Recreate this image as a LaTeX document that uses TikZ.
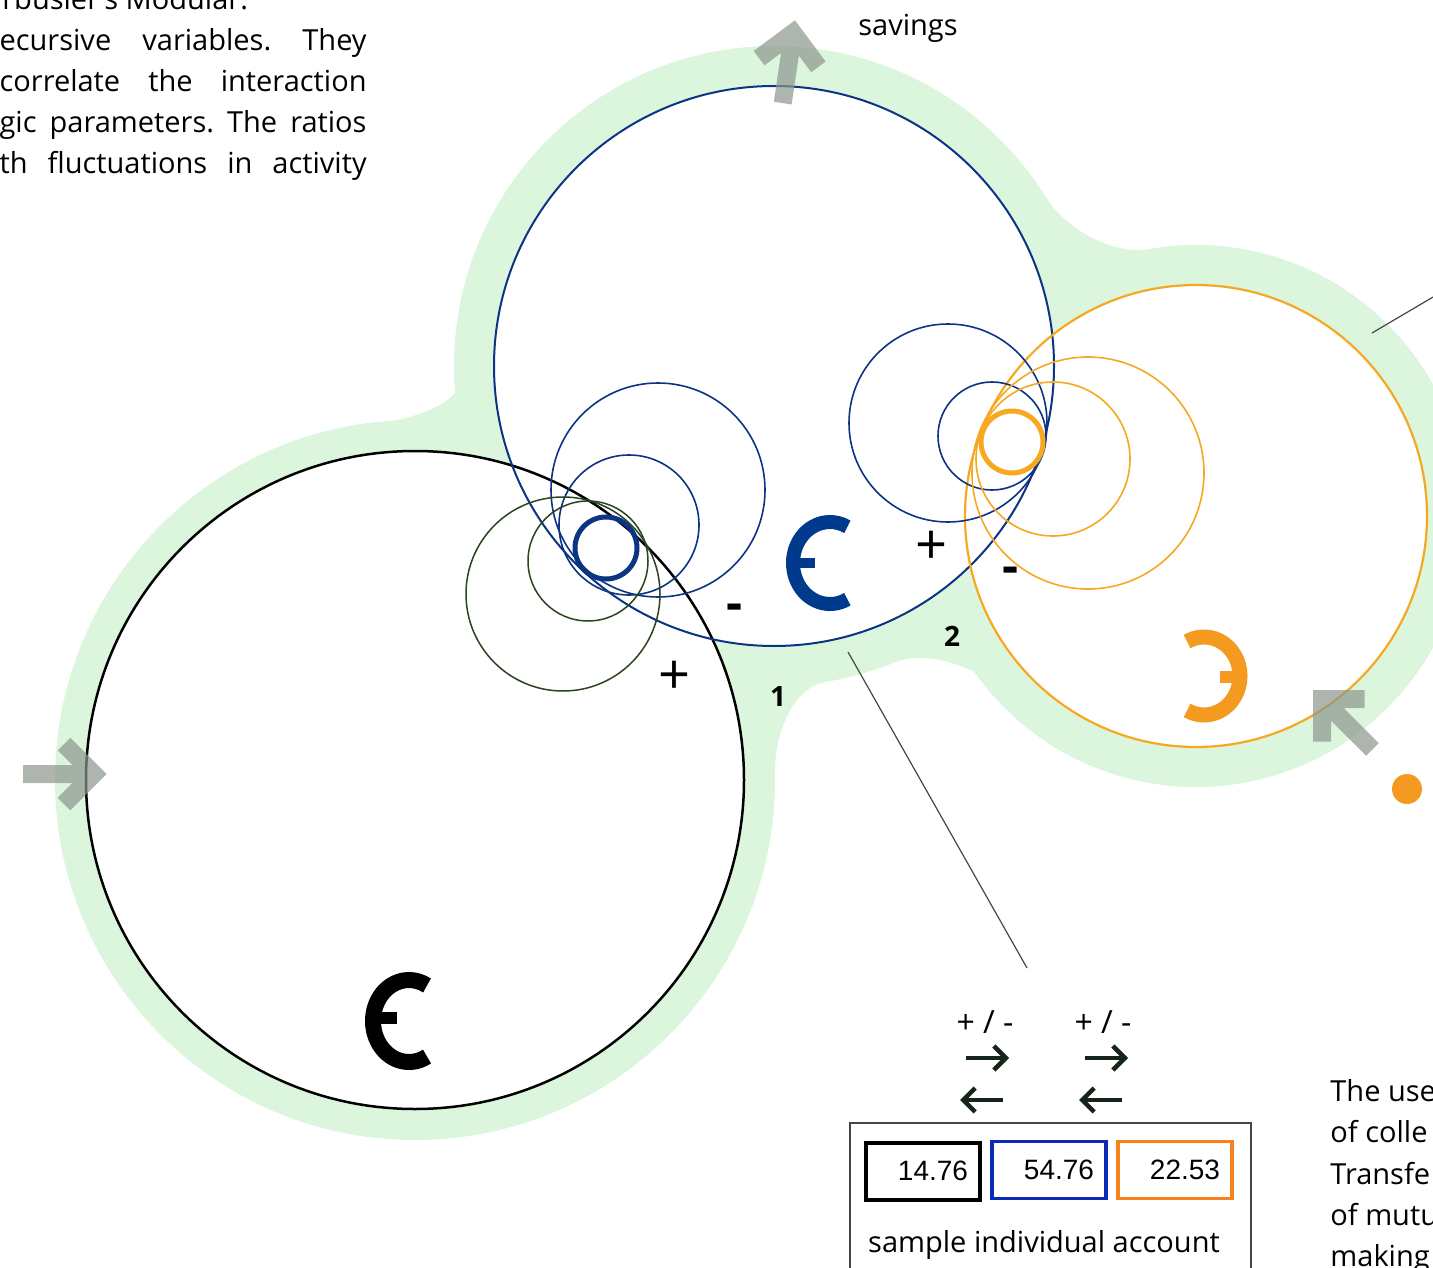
\documentclass[tikz,border=0pt]{standalone}
\usepackage{fontspec}
\setmainfont{Open Sans}
\newfontfamily\arialfont{Liberation Sans}
\usetikzlibrary{arrows.meta, positioning, calc}
\frenchspacing

\definecolor{blobgreen}{RGB}{220,246,222}
\definecolor{ringblue}{RGB}{12,52,132}
\definecolor{ringorange}{RGB}{246,168,32}
\definecolor{ringgreen}{RGB}{42,68,32}
\definecolor{arrowgray}{RGB}{140,150,140}
\definecolor{euroblue}{RGB}{0,58,140}
\definecolor{euroorange}{RGB}{244,154,32}
\definecolor{boxblue}{RGB}{12,42,180}
\definecolor{boxorange}{RGB}{246,130,30}
\definecolor{leadgray}{RGB}{70,70,70}
\definecolor{darkarrow}{RGB}{22,36,26}

\begin{document}
\begin{tikzpicture}[x=1pt, y=-1pt, >=Stealth, thick,
    txt/.style={inner sep=0pt, font=\fontsize{29}{41}\selectfont},
    sign/.style={inner sep=0pt, font=\fontsize{56}{56}\selectfont},
    num/.style={inner sep=0pt, font=\bfseries\fontsize{28}{28}\selectfont},
    flowarrow/.style={draw=arrowgray, line width=18pt, opacity=0.7, line join=miter},
    acct/.style={draw=#1, line width=4pt, minimum height=57pt, text width=90pt,
        align=right, inner xsep=12pt, font=\arialfont\fontsize{28}{28}\selectfont},
    leader/.style={draw=leadgray, line width=1.2pt}]
    \useasboundingbox (0,0) rectangle (1433,1268);
    \clip (0,0) rectangle (1433,1268);

    % green band round the three accounts
    \fill[blobgreen] (415,780) circle (360) (774,366) circle (320) (1196,516) circle (271);
    \fill[blobgreen] (370,425) .. controls (420,418) and (445,405) .. (456,392) -- (600,500) -- cycle;
    \fill[blobgreen] (775,770) .. controls (775,730) and (795,687) .. (825,682) -- (700,600) -- cycle;
    \fill[blobgreen] (895,662) .. controls (960,640) and (1040,712) .. (1100,769) -- (1000,560) -- cycle;
    \fill[blobgreen] (1045,196) .. controls (1063,226) and (1110,256) .. (1150,249) -- (1080,350) -- cycle;

    % the three accounts
    \fill[white] (415,780) circle (330) (774,366) circle (280) (1196,516) circle (231);
    \draw[line width=2.5pt] (415,780) circle (329);
    \draw[ringblue, line width=2pt] (774,366) circle (280);
    \draw[ringorange, line width=2.2pt] (1196,516) circle (231);

    % transfers between accounts
    \foreach \cx/\cy/\r in {658/490/107, 629/525/70, 948/423/99, 992/436/54}
        \draw[ringblue, line width=1.6pt] (\cx,\cy) circle (\r);
    \foreach \cx/\cy/\r in {563/594/97, 588/561/60}
        \draw[ringgreen, line width=1.5pt] (\cx,\cy) circle (\r);
    \foreach \cx/\cy/\r in {1053/459/77, 1088/473/116}
        \draw[ringorange, line width=1.6pt] (\cx,\cy) circle (\r);
    \draw[ringblue, line width=5pt] (606,548) circle (31);
    \draw[ringorange, line width=5pt] (1012,442) circle (31);

    % currency signs
    \draw[line width=16pt] (409,1021) ++(60:36 and 41) arc[start angle=60, end angle=300, x radius=36, y radius=41];
    \draw[line width=12pt] (373,1018) -- (397,1018);
    \draw[euroblue, line width=14pt] (830,563) ++(62:37 and 41) arc[start angle=62, end angle=298, x radius=37, y radius=41];
    \draw[euroblue, line width=10pt] (787,563) -- (815,563);
    \draw[euroorange, line width=15pt] (1204,676) ++(-118:36 and 39) arc[start angle=-118, end angle=118, x radius=36, y radius=39];
    \draw[euroorange, line width=12pt] (1220,677) -- (1247,677);
    \fill[euroorange] (1407,789) circle (15);

    % flows in and out
    \foreach \tx/\ty/\ang in {107/774/0, 795/20/81.6, 1313/690/135}
        \draw[flowarrow, shift={(\tx,\ty)}, rotate=\ang] (-84,0) -- (-13,0) (-43,-30) -- (-13,0) -- (-43,30);

    % signs and transfer numbers
    \node[sign] (plusA) at (675,678) {+};
    \node[sign] (plusB) at (931,548) {+};
    \node[num, font=\bfseries\fontsize{50}{50}\selectfont] (minusA) at (735,612) {-};
    \node[num, font=\bfseries\fontsize{50}{50}\selectfont] (minusB) at (1011,575) {-};
    \node[num] (one) at (778,697) {1};
    \node[num] (two) at (952,636) {2};
    \node[txt, anchor=base] (savings) at (908,36) {savings};

    % leader lines
    \coordinate (leadA) at (848,652);
    \coordinate (leadB) at (1027,968);
    \coordinate (leadC) at (1372,333);
    \coordinate (leadD) at (1445,290);
    \draw[leader] (leadA) -- (leadB);
    \draw[leader] (leadC) -- (leadD);

    % sample account
    \node[txt, font=\fontsize{32}{32}\selectfont] (pmA) at (985,1022) {+ / -};
    \node[txt, font=\fontsize{32}{32}\selectfont] (pmB) at (1103,1022) {+ / -};
    \foreach \dx in {0,119} {
        \draw[darkarrow, line width=4.5pt, -{Straight Barb[length=12pt, width=24pt]}] ({966+\dx},1058) -- ({1009+\dx},1058);
        \draw[darkarrow, line width=4.5pt, -{Straight Barb[length=12pt, width=24pt]}] ({1003+\dx},1100) -- ({960+\dx},1100);
    }
    \draw[leadgray, line width=2pt] (850,1290) |- (1251,1123) -- (1251,1290);
    \node[acct=black] (acctA) at (923,1171) {14.76};
    \node[acct=boxblue, line width=3.5pt] (acctB) at (1049,1170) {54.76};
    \node[acct=boxorange, line width=3.5pt] (acctC) at (1175,1170) {22.53};
    \node[txt, anchor=base] (sample) at (1044,1252) {sample individual account};

    % text round the figure
    \node[txt, anchor=base west] (tl0) at (2,10) {rbusier's Modular.};
    \node[txt, anchor=base east] (tl1) at (367,51) {\makebox[367pt][s]{ecursive variables. They}};
    \node[txt, anchor=base east] (tl2) at (367,92) {\makebox[367pt][s]{correlate the interaction}};
    \node[txt, anchor=base east] (tl3) at (367,133) {\makebox[367pt][s]{gic parameters. The ratios}};
    \node[txt, anchor=base east] (tl4) at (367,174) {\makebox[367pt][s]{th fluctuations in activity}};
    \node[txt, anchor=base west] (br1) at (1330,1101) {The use};
    \node[txt, anchor=base west] (br2) at (1330,1142) {of colle};
    \node[txt, anchor=base west] (br3) at (1330,1184) {Transfe};
    \node[txt, anchor=base west] (br4) at (1330,1225) {of mutu};
    \node[txt, anchor=base west] (br5) at (1330,1266) {making};
\end{tikzpicture}
\end{document}
